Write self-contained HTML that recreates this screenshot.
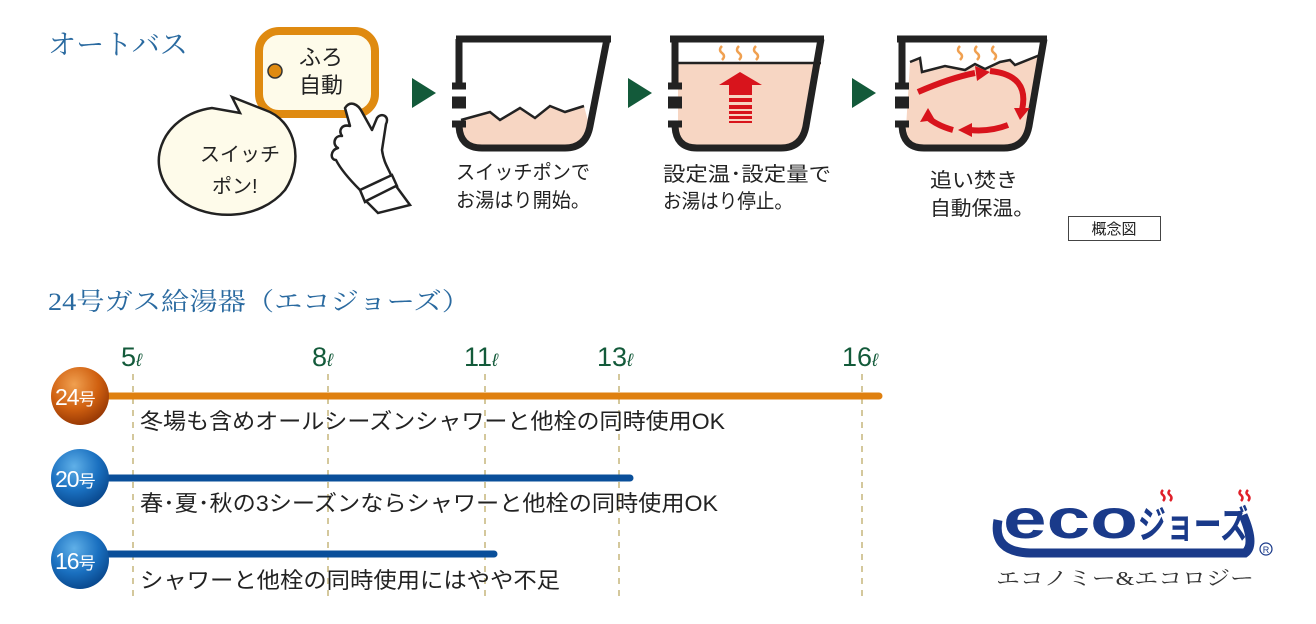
<!DOCTYPE html>
<html><head><meta charset="utf-8"><style>
html,body{margin:0;padding:0;background:#fff;}
svg{display:block;}
text{font-family:"Liberation Sans","Noto Sans CJK JP",sans-serif;}
.s{font-family:"Liberation Serif","Noto Serif CJK SC",serif;}
</style></head><body>
<svg width="1316" height="624" viewBox="0 0 1316 624" xmlns="http://www.w3.org/2000/svg">
<defs>
<radialGradient id="go" cx="40%" cy="30%" r="70%"><stop offset="0" stop-color="#f0a050"/><stop offset="0.6" stop-color="#d06010"/><stop offset="1" stop-color="#9a3a05"/></radialGradient>
<radialGradient id="gb" cx="40%" cy="30%" r="70%"><stop offset="0" stop-color="#60b0e8"/><stop offset="0.6" stop-color="#1a70c0"/><stop offset="1" stop-color="#0a4a90"/></radialGradient>
</defs>
<text x="48" y="54" class="s" font-size="28" fill="#2a6aa0" textLength="140" lengthAdjust="spacingAndGlyphs">オートバス</text>
<!-- button -->
<rect x="259" y="31" width="116" height="83" rx="20" fill="#fefbea" stroke="#df8a10" stroke-width="8"/>
<circle cx="275" cy="71" r="7" fill="#df8a10" stroke="#333" stroke-width="1.5"/>
<text x="299" y="65" font-size="22" fill="#222">ふろ</text>
<text x="299" y="93" font-size="22" fill="#222">自動</text>
<!-- bubble -->
<path d="M212,108 C160,115 140,170 180,200 C210,222 260,220 285,190 C305,160 295,120 265,110 L232,97 L240,113 Z" fill="#fefbea" stroke="#222" stroke-width="2.5"/>
<text x="200" y="161" font-size="20" fill="#222">スイッチ</text>
<text x="212" y="193" font-size="20" fill="#222">ポン!</text>
<!-- hand -->
<path d="M345,108 C350,100 358,104 362,112 L372,130 L377,118 C381,112 390,116 386,124 L382,150 C384,165 390,170 392,178 L360,190 C350,180 340,168 336,160 C330,160 330,150 338,148 C332,145 334,135 342,136 C338,130 342,124 350,126 Z" fill="#fff" stroke="#222" stroke-width="2.5" stroke-linejoin="round"/>
<path d="M360,190 L392,175 L397,186 L365,202 Z" fill="#fff" stroke="#222" stroke-width="2.5"/>
<path d="M366,201 L396,186 L410,205 L378,213 Z" fill="#fff" stroke="#222" stroke-width="2.5"/>
<!-- triangles -->
<path d="M412,78 L412,108 L436,93 Z" fill="#135a3a"/>
<path d="M628,78 L628,108 L652,93 Z" fill="#135a3a"/>
<path d="M852,78 L852,108 L876,93 Z" fill="#135a3a"/>
<!-- tub 1 -->
<path d="M461,120 L490,112 L500,120 L520,108 L535,118 L550,106 L565,112 L584,106 L590,128 Q585,148 565,148 L482,148 Q461,148 461,128 Z" fill="#f7d6c3"/>
<path d="M461,120 L490,112 L500,120 L520,108 L535,118 L550,106 L565,112 L584,106" fill="none" stroke="#222" stroke-width="2.5"/>
<path d="M456,39 L611,39 M459,39 L459,86 M452,86 L466,86 M452,100 L466,100 M459,100 L459,105 M452,105 L466,105 M452,124 L466,124 M459,124 Q459,148 482,148 L565,148 Q586,148 590,126 L607,39" fill="none" stroke="#222" stroke-width="7"/>
<text x="456" y="179" font-size="20" fill="#222" textLength="134" lengthAdjust="spacingAndGlyphs">スイッチポンで</text>
<text x="456" y="207" font-size="20" fill="#222" textLength="134" lengthAdjust="spacingAndGlyphs">お湯はり開始。</text>
<!-- tub 2 -->
<path d="M678,63 L821,63 L806,128 Q801,148 781,148 L697,148 Q678,148 678,128 Z" fill="#f7d6c3"/>
<line x1="678" y1="63" x2="821" y2="63" stroke="#222" stroke-width="2.5"/>
<path d="M670,39 L824,39 M675,39 L675,86 M668,86 L682,86 M668,100 L682,100 M675,100 L675,105 M668,105 L682,105 M668,124 L682,124 M675,124 Q675,148 697,148 L781,148 Q802,148 806,126 L821,39" fill="none" stroke="#222" stroke-width="7"/>
<path d="M740,72 L762,85 L752,85 L752,95 L729,95 L729,85 L719,85 Z" fill="#d8141c"/>
<rect x="729" y="98" width="23" height="4" fill="#d8141c"/><rect x="729" y="105" width="23" height="4" fill="#d8141c"/><rect x="729" y="111" width="23" height="3" fill="#d8141c"/><rect x="729" y="116" width="23" height="3" fill="#d8141c"/><rect x="729" y="121" width="23" height="2" fill="#d8141c"/>
<g fill="none" stroke="#f0a050" stroke-width="2.5"><path d="M722,46 q-4,4 0,7 q4,3 0,7"/><path d="M739,46 q-4,4 0,7 q4,3 0,7"/><path d="M756,46 q-4,4 0,7 q4,3 0,7"/></g>
<text x="663" y="181" font-size="20" fill="#222" textLength="168" lengthAdjust="spacingAndGlyphs">設定温･設定量で</text>
<text x="663" y="208" font-size="20" fill="#222" textLength="130" lengthAdjust="spacingAndGlyphs">お湯はり停止。</text>
<!-- tub 3 -->
<path d="M910,62 L920,58 L922,72 L945,66 L965,70 L975,64 L985,69 L1000,62 L1010,60 L1015,65 L1040,55 L1028,128 Q1024,148 1004,148 L924,148 Q906,148 906,128 Z" fill="#f7d6c3"/>
<path d="M910,62 L920,58 L922,72 L945,66 L965,70 L975,64 L985,69 L1000,62 L1010,60 L1015,65 L1040,55" fill="none" stroke="#222" stroke-width="2.5"/>
<path d="M897,39 L1047,39 M902,39 L902,86 M895,86 L909,86 M895,100 L909,100 M902,100 L902,105 M895,105 L909,105 M895,124 L909,124 M902,124 Q902,148 924,148 L1004,148 Q1025,148 1029,126 L1044,39" fill="none" stroke="#222" stroke-width="7"/>
<g fill="none" stroke="#d8141c" stroke-width="6"><path d="M918,92 Q950,78 975,73"/><path d="M990,71 Q1030,75 1022,110"/><path d="M1008,125 Q990,132 970,130"/><path d="M953,130 Q935,125 925,115"/></g>
<g fill="#d8141c"><path d="M975,66 L990,72 L977,81 Z"/><path d="M1014,108 L1030,108 L1020,120 Z"/><path d="M972,123 L958,130 L972,137 Z"/><path d="M928,108 L920,122 L935,120 Z"/></g>
<g fill="none" stroke="#f0a050" stroke-width="2.5"><path d="M960,46 q-4,4 0,7 q4,3 0,7"/><path d="M977,46 q-4,4 0,7 q4,3 0,7"/><path d="M994,46 q-4,4 0,7 q4,3 0,7"/></g>
<text x="930" y="187" font-size="20" fill="#222" textLength="88" lengthAdjust="spacingAndGlyphs">追い焚き</text>
<text x="930" y="215" font-size="20" fill="#222" textLength="104" lengthAdjust="spacingAndGlyphs">自動保温。</text>
<rect x="1068.5" y="216.5" width="92" height="24" fill="#fff" stroke="#444" stroke-width="1"/>
<text x="1114" y="234" font-size="15" fill="#222" text-anchor="middle">概念図</text>
<!-- chart -->
<text x="48" y="310" class="s" font-size="25" fill="#2a6aa0" textLength="422" lengthAdjust="spacingAndGlyphs">24号ガス給湯器（エコジョーズ）</text>
<g font-size="27" fill="#135a3a"><text x="121" y="366">5<tspan font-size="18" font-style="italic">ℓ</tspan></text><text x="312" y="366">8<tspan font-size="18" font-style="italic">ℓ</tspan></text><text x="464" y="366">11<tspan font-size="18" font-style="italic">ℓ</tspan></text><text x="597" y="366">13<tspan font-size="18" font-style="italic">ℓ</tspan></text><text x="842" y="366">16<tspan font-size="18" font-style="italic">ℓ</tspan></text></g>
<g stroke="#d4c89c" stroke-width="2" stroke-dasharray="6,6"><line x1="133" y1="374" x2="133" y2="598"/><line x1="328" y1="374" x2="328" y2="598"/><line x1="485" y1="374" x2="485" y2="598"/><line x1="619" y1="374" x2="619" y2="598"/><line x1="862" y1="374" x2="862" y2="598"/></g>
<line x1="100" y1="396" x2="879" y2="396" stroke="#df8010" stroke-width="7" stroke-linecap="round"/>
<line x1="100" y1="478" x2="630" y2="478" stroke="#0a4f9a" stroke-width="7" stroke-linecap="round"/>
<line x1="100" y1="554" x2="494" y2="554" stroke="#0a4f9a" stroke-width="7" stroke-linecap="round"/>
<circle cx="80" cy="396" r="29" fill="url(#go)"/><circle cx="80" cy="478" r="29" fill="url(#gb)"/><circle cx="80" cy="560" r="29" fill="url(#gb)"/>
<g font-size="23" fill="#fff" letter-spacing="-1"><text x="55" y="405">24<tspan font-size="17">号</tspan></text><text x="55" y="487">20<tspan font-size="17">号</tspan></text><text x="55" y="569">16<tspan font-size="17">号</tspan></text></g>
<g font-size="22" fill="#222"><text x="140" y="429" textLength="585" lengthAdjust="spacingAndGlyphs">冬場も含めオールシーズンシャワーと他栓の同時使用OK</text><text x="140" y="511" textLength="578" lengthAdjust="spacingAndGlyphs">春･夏･秋の3シーズンならシャワーと他栓の同時使用OK</text><text x="140" y="588" textLength="420" lengthAdjust="spacingAndGlyphs">シャワーと他栓の同時使用にはやや不足</text></g>
<!-- logo -->
<path d="M998,520 Q992,552 1030,553 L1245,553 Q1256,545 1243,515" fill="none" stroke="#1a3a8a" stroke-width="9"/>
<g font-weight="bold" fill="#1a3a8a"><text x="1003" y="538" font-size="56" textLength="135" lengthAdjust="spacingAndGlyphs">eco</text><text x="1138" y="538" font-size="38" textLength="110" lengthAdjust="spacingAndGlyphs">ジョーズ</text></g>
<g fill="none" stroke="#e0202a" stroke-width="2.5"><path d="M1163,490 q-3,3 0,5 q3,3 0,6"/><path d="M1170,490 q-3,3 0,5 q3,3 0,6"/><path d="M1241,490 q-3,3 0,5 q3,3 0,6"/><path d="M1248,490 q-3,3 0,5 q3,3 0,6"/></g>
<circle cx="1266" cy="549" r="6" fill="none" stroke="#1a3a8a" stroke-width="1.2"/><text x="1266" y="553" font-size="9" fill="#1a3a8a" text-anchor="middle">R</text>
<text x="996" y="585" class="s" font-size="20" fill="#333" textLength="258" lengthAdjust="spacingAndGlyphs">エコノミー&amp;エコロジー</text>
</svg>
</body></html>
